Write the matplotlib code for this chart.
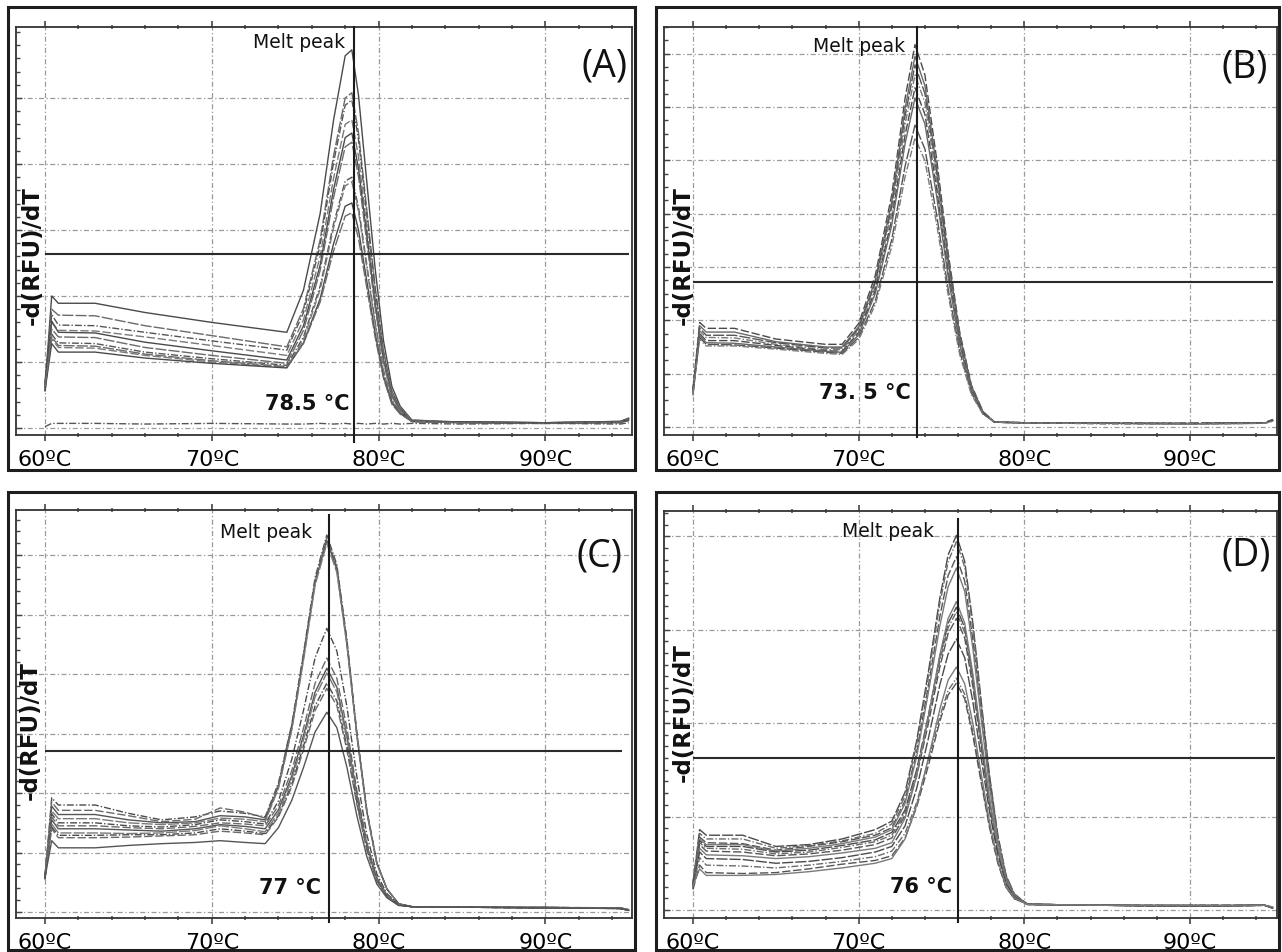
import matplotlib.pyplot as plt
from matplotlib.patches import Rectangle
from matplotlib.ticker import MultipleLocator

#%% data
panel_names = ["(A)", "(B)", "(C)", "(D)"]
melt_temps = [78.5, 73.5, 77.0, 76.0]
melt_labels = ["78.5 °C", "73. 5 °C", "77 °C", "76 °C"]
threshold = [2.64, 2.72, 2.71, 1.63]
tick_temps = [60, 70, 80, 90]
tick_labels = ["60ºC", "70ºC", "80ºC", "90ºC"]

# panel A
temp_a = [60.0, 60.4, 60.8, 63.0, 66.0, 70.0, 74.5, 75.5, 76.5, 77.3, 78.0, 78.4,
          78.8, 79.3, 79.8, 80.3, 80.8, 81.3, 82.0, 85.0, 90.0, 94.5, 95.0]
curves_a = [
    [0.62, 2.00, 1.89, 1.89, 1.75, 1.60, 1.45, 2.09, 3.25, 4.66, 5.64, 5.73, 5.04, 3.72, 2.41, 1.32, 0.63, 0.33, 0.12, 0.09, 0.08, 0.10, 0.14],
    [0.60, 1.80, 1.71, 1.70, 1.55, 1.40, 1.23, 1.81, 2.85, 4.12, 5.00, 5.08, 4.47, 3.30, 2.13, 1.17, 0.56, 0.30, 0.12, 0.08, 0.07, 0.09, 0.12],
    [0.65, 1.72, 1.56, 1.55, 1.45, 1.32, 1.18, 1.75, 2.77, 4.02, 4.89, 4.97, 4.37, 3.23, 2.09, 1.14, 0.55, 0.29, 0.11, 0.09, 0.08, 0.08, 0.13],
    [0.58, 1.60, 1.48, 1.47, 1.38, 1.25, 1.10, 1.64, 2.60, 3.78, 4.60, 4.67, 4.11, 3.04, 1.96, 1.07, 0.51, 0.28, 0.11, 0.08, 0.07, 0.09, 0.11],
    [0.70, 1.62, 1.45, 1.44, 1.30, 1.17, 1.03, 1.55, 2.47, 3.61, 4.40, 4.47, 3.93, 2.91, 1.88, 1.03, 0.49, 0.27, 0.10, 0.09, 0.08, 0.10, 0.15],
    [0.55, 1.50, 1.38, 1.37, 1.22, 1.10, 0.98, 1.48, 2.39, 3.49, 4.26, 4.33, 3.81, 2.81, 1.82, 1.00, 0.48, 0.27, 0.10, 0.08, 0.07, 0.08, 0.12],
    [0.66, 1.42, 1.29, 1.28, 1.15, 1.05, 0.95, 1.38, 2.15, 3.09, 3.74, 3.80, 3.34, 2.47, 1.60, 0.87, 0.42, 0.24, 0.10, 0.09, 0.08, 0.09, 0.13],
    [0.60, 1.35, 1.22, 1.21, 1.10, 1.00, 0.92, 1.34, 2.10, 3.03, 3.67, 3.73, 3.28, 2.42, 1.57, 0.86, 0.41, 0.24, 0.10, 0.08, 0.07, 0.08, 0.11],
    [0.57, 1.28, 1.15, 1.15, 1.06, 0.98, 0.91, 1.29, 1.96, 2.79, 3.36, 3.41, 3.00, 2.22, 1.43, 0.78, 0.38, 0.22, 0.10, 0.09, 0.08, 0.09, 0.12],
    [0.63, 1.38, 1.25, 1.24, 1.12, 1.02, 0.93, 1.28, 1.91, 2.68, 3.21, 3.26, 2.87, 2.12, 1.37, 0.75, 0.36, 0.21, 0.10, 0.08, 0.07, 0.09, 0.14],
    [0.02, 0.07, 0.07, 0.07, 0.06, 0.07, 0.06, 0.06, 0.07, 0.06, 0.07, 0.06, 0.07, 0.06, 0.07, 0.06, 0.07, 0.06, 0.07, 0.06, 0.07, 0.06, 0.08],
]

# panel B
temp_b = [60.0, 60.4, 60.8, 62.5, 65.0, 68.0, 69.0, 70.0, 71.0, 72.0, 72.8, 73.4,
          74.0, 74.7, 75.4, 76.1, 76.8, 77.5, 78.2, 80.0, 85.0, 90.0, 94.5, 95.0]
curves_b = [
    [0.70, 1.96, 1.85, 1.85, 1.65, 1.55, 1.55, 1.94, 2.84, 4.36, 6.16, 7.17, 6.60, 5.04, 3.27, 1.78, 0.79, 0.29, 0.09, 0.08, 0.07, 0.06, 0.08, 0.13],
    [0.65, 1.90, 1.78, 1.78, 1.60, 1.50, 1.50, 1.88, 2.75, 4.23, 5.97, 6.95, 6.40, 4.89, 3.17, 1.73, 0.77, 0.29, 0.09, 0.08, 0.07, 0.06, 0.07, 0.12],
    [0.68, 1.85, 1.72, 1.72, 1.58, 1.48, 1.48, 1.85, 2.70, 4.14, 5.83, 6.79, 6.25, 4.78, 3.10, 1.69, 0.75, 0.28, 0.09, 0.08, 0.07, 0.07, 0.08, 0.14],
    [0.62, 1.80, 1.68, 1.67, 1.55, 1.45, 1.45, 1.81, 2.63, 4.03, 5.67, 6.60, 6.08, 4.64, 3.01, 1.64, 0.73, 0.28, 0.09, 0.08, 0.06, 0.06, 0.07, 0.11],
    [0.72, 1.75, 1.62, 1.62, 1.53, 1.43, 1.42, 1.77, 2.56, 3.89, 5.47, 6.36, 5.86, 4.48, 2.90, 1.59, 0.71, 0.27, 0.09, 0.08, 0.07, 0.07, 0.08, 0.13],
    [0.60, 1.72, 1.58, 1.57, 1.50, 1.42, 1.40, 1.73, 2.50, 3.79, 5.31, 6.17, 5.68, 4.34, 2.82, 1.54, 0.69, 0.26, 0.09, 0.08, 0.07, 0.06, 0.07, 0.12],
    [0.66, 1.68, 1.55, 1.54, 1.48, 1.40, 1.38, 1.68, 2.36, 3.52, 4.89, 5.66, 5.21, 3.99, 2.59, 1.42, 0.64, 0.25, 0.09, 0.08, 0.07, 0.07, 0.08, 0.14],
    [0.64, 1.65, 1.52, 1.52, 1.46, 1.38, 1.36, 1.64, 2.29, 3.39, 4.69, 5.42, 4.99, 3.82, 2.48, 1.36, 0.61, 0.24, 0.09, 0.08, 0.06, 0.06, 0.07, 0.11],
]

# panel C
temp_c = [60.0, 60.4, 60.8, 63.0, 65.0, 67.0, 69.0, 70.5, 72.0, 73.2, 74.0, 74.8, 75.5, 76.2,
          76.9, 77.5, 78.1, 78.7, 79.3, 79.9, 80.5, 81.2, 82.0, 86.0, 90.0, 94.5, 95.0]
curves_c = [
    [0.55, 1.92, 1.80, 1.80, 1.66, 1.55, 1.60, 1.70, 1.66, 1.60, 2.17, 3.16, 4.35, 5.63, 6.34, 5.84, 4.59, 3.02, 1.71, 0.83, 0.39, 0.14, 0.09, 0.08, 0.07, 0.06, 0.03],
    [0.60, 1.85, 1.71, 1.71, 1.62, 1.52, 1.56, 1.75, 1.68, 1.58, 2.15, 3.14, 4.32, 5.59, 6.30, 5.80, 4.56, 3.00, 1.70, 0.83, 0.39, 0.14, 0.09, 0.08, 0.07, 0.07, 0.04],
    [0.58, 1.78, 1.64, 1.64, 1.55, 1.50, 1.52, 1.62, 1.60, 1.55, 2.11, 3.10, 4.28, 5.55, 6.25, 5.76, 4.52, 2.98, 1.68, 0.82, 0.39, 0.14, 0.09, 0.08, 0.08, 0.06, 0.03],
    [0.62, 1.70, 1.57, 1.57, 1.50, 1.47, 1.50, 1.58, 1.56, 1.52, 2.08, 3.06, 4.23, 5.50, 6.20, 5.71, 4.49, 2.96, 1.67, 0.81, 0.39, 0.14, 0.09, 0.08, 0.07, 0.07, 0.04],
    [0.57, 1.65, 1.50, 1.50, 1.45, 1.43, 1.47, 1.55, 1.52, 1.48, 1.87, 2.57, 3.39, 4.28, 4.77, 4.39, 3.46, 2.28, 1.30, 0.64, 0.31, 0.13, 0.09, 0.08, 0.07, 0.06, 0.03],
    [0.63, 1.60, 1.45, 1.45, 1.42, 1.40, 1.44, 1.50, 1.48, 1.45, 1.79, 2.38, 3.09, 3.85, 4.27, 3.93, 3.10, 2.05, 1.17, 0.58, 0.29, 0.12, 0.09, 0.08, 0.07, 0.07, 0.04],
    [0.56, 1.55, 1.40, 1.40, 1.38, 1.36, 1.40, 1.47, 1.44, 1.40, 1.72, 2.29, 2.97, 3.70, 4.10, 3.78, 2.97, 1.97, 1.13, 0.56, 0.28, 0.12, 0.09, 0.08, 0.08, 0.06, 0.03],
    [0.60, 1.48, 1.33, 1.33, 1.32, 1.33, 1.37, 1.45, 1.40, 1.35, 1.67, 2.23, 2.90, 3.62, 4.02, 3.70, 2.92, 1.93, 1.10, 0.55, 0.28, 0.12, 0.09, 0.08, 0.07, 0.07, 0.04],
    [0.59, 1.43, 1.29, 1.29, 1.30, 1.30, 1.33, 1.40, 1.36, 1.32, 1.62, 2.15, 2.79, 3.47, 3.85, 3.55, 2.79, 1.85, 1.06, 0.53, 0.27, 0.12, 0.09, 0.08, 0.07, 0.06, 0.03],
    [0.61, 1.40, 1.25, 1.25, 1.26, 1.28, 1.30, 1.36, 1.33, 1.30, 1.60, 2.11, 2.73, 3.39, 3.76, 3.47, 2.73, 1.81, 1.04, 0.52, 0.26, 0.12, 0.09, 0.08, 0.08, 0.07, 0.04],
    [0.58, 1.20, 1.08, 1.08, 1.12, 1.15, 1.17, 1.20, 1.17, 1.15, 1.42, 1.88, 2.43, 3.03, 3.36, 3.10, 2.44, 1.62, 0.93, 0.47, 0.24, 0.11, 0.09, 0.08, 0.07, 0.06, 0.03],
]

# panel D
temp_d = [60.0, 60.4, 60.8, 63.0, 65.0, 67.0, 69.0, 71.0, 72.0, 72.8, 73.5, 74.2, 74.9, 75.4,
          75.9, 76.4, 76.9, 77.4, 77.9, 78.4, 78.9, 79.4, 80.2, 85.0, 90.0, 94.5, 95.0]
curves_d = [
    [0.28, 0.86, 0.80, 0.80, 0.68, 0.70, 0.76, 0.86, 0.95, 1.26, 1.81, 2.54, 3.34, 3.80, 4.01, 3.73, 3.06, 2.23, 1.44, 0.80, 0.37, 0.17, 0.06, 0.05, 0.04, 0.05, 0.02],
    [0.25, 0.82, 0.76, 0.76, 0.66, 0.69, 0.74, 0.82, 0.92, 1.22, 1.77, 2.49, 3.28, 3.73, 3.94, 3.67, 3.01, 2.19, 1.41, 0.79, 0.36, 0.17, 0.06, 0.05, 0.04, 0.05, 0.02],
    [0.30, 0.78, 0.72, 0.71, 0.64, 0.68, 0.73, 0.80, 0.88, 1.17, 1.69, 2.39, 3.14, 3.58, 3.78, 3.52, 2.88, 2.10, 1.36, 0.76, 0.35, 0.16, 0.06, 0.05, 0.05, 0.05, 0.03],
    [0.27, 0.76, 0.70, 0.70, 0.63, 0.66, 0.71, 0.78, 0.86, 1.14, 1.64, 2.32, 3.04, 3.46, 3.66, 3.41, 2.79, 2.04, 1.31, 0.74, 0.34, 0.16, 0.06, 0.05, 0.04, 0.05, 0.02],
    [0.24, 0.74, 0.68, 0.68, 0.62, 0.64, 0.69, 0.75, 0.83, 1.07, 1.50, 2.08, 2.71, 3.07, 3.24, 3.02, 2.47, 1.80, 1.17, 0.66, 0.31, 0.15, 0.06, 0.05, 0.04, 0.05, 0.02],
    [0.29, 0.72, 0.66, 0.65, 0.60, 0.62, 0.67, 0.73, 0.80, 1.04, 1.47, 2.04, 2.66, 3.02, 3.19, 2.97, 2.44, 1.78, 1.15, 0.65, 0.30, 0.14, 0.06, 0.05, 0.05, 0.05, 0.03],
    [0.26, 0.70, 0.63, 0.62, 0.58, 0.60, 0.64, 0.70, 0.77, 1.01, 1.43, 1.99, 2.60, 2.96, 3.12, 2.91, 2.38, 1.74, 1.12, 0.63, 0.30, 0.14, 0.06, 0.05, 0.04, 0.05, 0.02],
    [0.23, 0.66, 0.59, 0.58, 0.55, 0.57, 0.61, 0.66, 0.72, 0.98, 1.44, 2.06, 2.73, 3.12, 3.30, 3.07, 2.52, 1.84, 1.19, 0.67, 0.31, 0.15, 0.06, 0.05, 0.04, 0.05, 0.02],
    [0.27, 0.62, 0.55, 0.54, 0.50, 0.52, 0.56, 0.62, 0.68, 0.90, 1.30, 1.83, 2.41, 2.74, 2.90, 2.70, 2.22, 1.62, 1.05, 0.59, 0.28, 0.14, 0.06, 0.05, 0.05, 0.05, 0.03],
    [0.25, 0.56, 0.48, 0.47, 0.45, 0.48, 0.52, 0.57, 0.63, 0.82, 1.15, 1.59, 2.07, 2.35, 2.48, 2.31, 1.90, 1.39, 0.90, 0.51, 0.24, 0.12, 0.06, 0.05, 0.04, 0.05, 0.02],
    [0.22, 0.48, 0.40, 0.39, 0.40, 0.44, 0.49, 0.53, 0.58, 0.77, 1.10, 1.54, 2.02, 2.30, 2.43, 2.26, 1.86, 1.36, 0.88, 0.50, 0.24, 0.12, 0.06, 0.05, 0.04, 0.05, 0.02],
    [0.26, 0.44, 0.37, 0.37, 0.38, 0.41, 0.45, 0.50, 0.55, 0.76, 1.12, 1.62, 2.15, 2.46, 2.60, 2.42, 1.99, 1.45, 0.94, 0.53, 0.25, 0.13, 0.06, 0.05, 0.05, 0.05, 0.03],
]

panel_temps = [temp_a, temp_b, temp_c, temp_d]
panel_curves = [curves_a, curves_b, curves_c, curves_d]

#%% layout (pixel boxes of the original 1282x952 figure)
W, H = 1282, 952
frames = [(8, 7, 635, 470), (656, 7, 1279, 470), (8, 492, 635, 950), (656, 492, 1279, 950)]
boxes = [(16, 27, 632, 435), (664, 27, 1277, 435), (16, 510, 632, 918), (664, 511, 1277, 918)]
xlims = [(58.26, 95.2), (58.25, 95.25), (58.26, 95.2), (58.25, 95.25)]
ylims = [(-0.106, 6.076), (-0.15, 7.5), (-0.10, 6.76), (-0.086, 4.27)]
grid_top = [5, 7, 6, 4]
minor_y = [0.2, 0.25, 0.2, 0.125]
hline_end = [95.0, 95.0, 94.6, 95.1]
vline_span = [(-0.017, 1.0), (-0.005, 1.0), (-0.01, 0.988), (-0.01, 0.98)]
peak_txt = [(8, 0.961), (12, 0.953), (16, 0.944), (24, 0.949)]
temp_txt = [(4, 0.076), (6, 0.103), (8, 0.074), (6, 0.076)]
letter_pos = [(0.992, 0.902), (0.985, 0.90), (0.984, 0.885), (0.99, 0.89)]
ylab_pos = [(0.026, 0.44), (0.031, 0.44), (0.023, 0.46), (0.031, 0.505)]

line_colors = ['#4a4a4a', '#6a6a6a', '#555555', '#7a7a7a']
line_styles = ['-', (0, (6, 2)), (0, (5, 1.5, 1, 1.5)), (0, (8, 1.5))]
grid_style = (0, (4, 2, 1, 2))
px2pt = 0.72

fig = plt.figure(figsize=(W / 100, H / 100), dpi=100)

for i in range(4):
    l, t, r, b = frames[i]
    fig.patches.append(Rectangle((l / W, 1 - b / H), (r - l) / W, (b - t) / H,
                                 transform=fig.transFigure, fill=False,
                                 edgecolor='#1e1e1e', linewidth=2.2))

    l, t, r, b = boxes[i]
    ax = fig.add_axes([l / W, 1 - b / H, (r - l) / W, (b - t) / H])
    ax.set_xlim(*xlims[i])
    ax.set_ylim(*ylims[i])
    for sp in ax.spines.values():
        sp.set_color('#333333')
        sp.set_linewidth(1.3)

    # grid + ticks
    ax.set_xticks(tick_temps, tick_labels)
    ax.set_yticks(range(0, grid_top[i] + 1))
    ax.xaxis.set_minor_locator(MultipleLocator(2))
    ax.yaxis.set_minor_locator(MultipleLocator(minor_y[i]))
    ax.grid(True, which='major', color='#9a9a9a', linestyle=grid_style, linewidth=0.9)
    ax.tick_params(axis='y', which='both', direction='in', labelleft=False, color='#444444')
    ax.tick_params(axis='y', which='major', length=4, width=1)
    ax.tick_params(axis='y', which='minor', length=3, width=1)
    ax.tick_params(axis='x', which='major', length=4, width=1.2, pad=7,
                   labelsize=16, color='#444444', top=True)
    ax.tick_params(axis='x', which='minor', length=3, width=1.2, direction='inout',
                   color='#555555', top=True)

    # melt curves
    for k, vals in enumerate(panel_curves[i]):
        ax.plot(panel_temps[i], vals, color=line_colors[k % 4],
                linestyle=line_styles[(k * 3 + i) % 4], linewidth=1.0)

    # threshold + melt peak marker
    ax.hlines(threshold[i], 60, hline_end[i], color='#2a2a2a', linewidth=1.5, zorder=3)
    y0, y1 = vline_span[i]
    ax.axvline(melt_temps[i], ymin=y0, ymax=y1, color='#1a1a1a', linewidth=1.5,
               clip_on=False, zorder=3)

    ax.annotate('Melt peak', xy=(melt_temps[i], peak_txt[i][1]),
                xycoords=('data', 'axes fraction'),
                xytext=(-peak_txt[i][0] * px2pt, 0), textcoords='offset points',
                ha='right', va='center', fontsize=13.5, color='#111111')
    ax.annotate(melt_labels[i], xy=(melt_temps[i], temp_txt[i][1]),
                xycoords=('data', 'axes fraction'),
                xytext=(-temp_txt[i][0] * px2pt, 0), textcoords='offset points',
                ha='right', va='center', fontsize=15, fontweight='bold', color='#111111')

    ax.text(letter_pos[i][0], letter_pos[i][1], panel_names[i], transform=ax.transAxes,
            ha='right', va='center', fontsize=27, family=['Open Sans', 'DejaVu Sans'],
            color='#111111')
    ax.text(ylab_pos[i][0], ylab_pos[i][1], '-d(RFU)/dT', transform=ax.transAxes,
            rotation=90, ha='center', va='center', fontsize=16.5, fontweight='bold',
            color='#111111')

fig.savefig('out.png', dpi=100)
